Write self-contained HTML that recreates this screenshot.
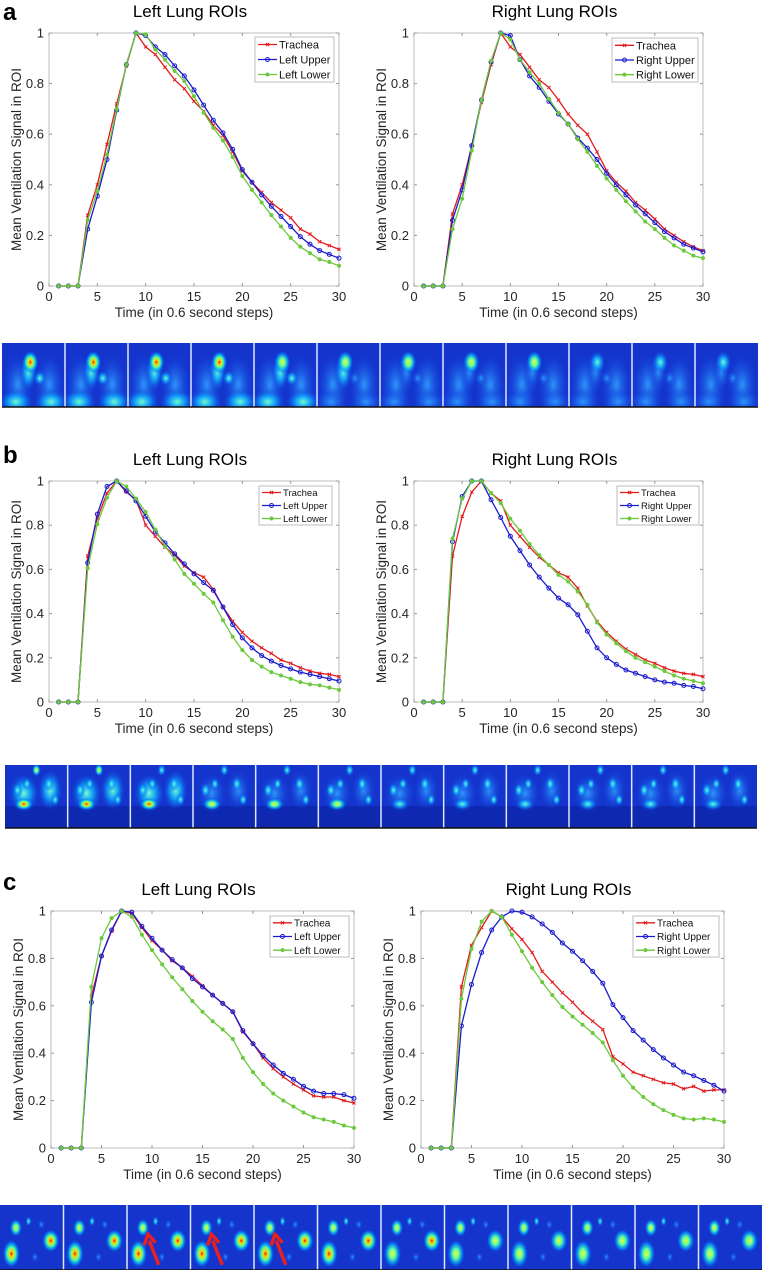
<!DOCTYPE html>
<html><head><meta charset="utf-8">
<style>
html,body{margin:0;padding:0;background:#fff;}
svg{display:block;font-family:"Liberation Sans",sans-serif;}
</style></head>
<body>
<svg id="root" width="762" height="1270" viewBox="0 0 762 1270" xmlns="http://www.w3.org/2000/svg">
<defs>
<radialGradient id="g3"><stop offset="0" stop-color="#e81010"/><stop offset="0.2" stop-color="#ffd000"/><stop offset="0.45" stop-color="#60ff90"/><stop offset="0.7" stop-color="#00a8ff" stop-opacity="0.8"/><stop offset="1" stop-color="#1040e0" stop-opacity="0"/></radialGradient>
<radialGradient id="g2"><stop offset="0" stop-color="#f0ff30"/><stop offset="0.35" stop-color="#60ffa0"/><stop offset="0.7" stop-color="#00a0ff" stop-opacity="0.7"/><stop offset="1" stop-color="#1040e0" stop-opacity="0"/></radialGradient>
<radialGradient id="g1"><stop offset="0" stop-color="#70ffd0"/><stop offset="0.45" stop-color="#10b0ff" stop-opacity="0.8"/><stop offset="1" stop-color="#1040e0" stop-opacity="0"/></radialGradient>
<radialGradient id="g0"><stop offset="0" stop-color="#30a0ff" stop-opacity="0.9"/><stop offset="1" stop-color="#1040e0" stop-opacity="0"/></radialGradient>
</defs>
<g>
<text x="3" y="20" font-size="24" font-weight="bold">a</text>
<g id="aL"></g><g id="aR"></g><g id="stripA"></g></g>
<g>
<text x="3" y="463" font-size="24" font-weight="bold">b</text>
<g id="bL"></g><g id="bR"></g><g id="stripB"></g></g>
<g>
<text x="3" y="890" font-size="24" font-weight="bold">c</text>
<g id="cL"></g><g id="cR"></g><g id="stripC"></g></g>
</svg>
<script>
// ---- data ----
const timeSteps = [1,2,3,4,5,6,7,8,9,10,11,12,13,14,15,16,17,18,19,20,21,22,23,24,25,26,27,28,29,30];
const xTicks = [0,5,10,15,20,25,30];
const yTicks = [0,0.2,0.4,0.6,0.8,1];
const yTickLabels = ["0","0.2","0.4","0.6","0.8","1"];

const aLeftTrachea = [0,0,0,0.28,0.40,0.56,0.72,0.87,1.0,0.945,0.915,0.865,0.815,0.78,0.73,0.69,0.635,0.595,0.53,0.455,0.41,0.37,0.33,0.30,0.27,0.225,0.205,0.175,0.16,0.145];
const aLeftUpper = [0,0,0,0.225,0.355,0.50,0.695,0.875,1.0,0.99,0.945,0.915,0.87,0.83,0.775,0.715,0.655,0.605,0.54,0.46,0.41,0.36,0.315,0.275,0.235,0.195,0.165,0.14,0.125,0.11];
const aLeftLower = [0,0,0,0.26,0.375,0.52,0.70,0.875,1.0,0.995,0.935,0.895,0.85,0.81,0.75,0.685,0.625,0.575,0.51,0.435,0.38,0.33,0.28,0.235,0.19,0.155,0.13,0.105,0.095,0.08];
const aRightTrachea = [0,0,0,0.285,0.40,0.555,0.725,0.875,1.0,0.945,0.915,0.865,0.815,0.785,0.735,0.68,0.635,0.60,0.53,0.455,0.41,0.375,0.33,0.30,0.265,0.225,0.20,0.175,0.155,0.14];
const aRightUpper = [0,0,0,0.26,0.38,0.555,0.735,0.885,1.0,0.99,0.895,0.83,0.785,0.73,0.68,0.64,0.585,0.545,0.50,0.445,0.40,0.36,0.32,0.285,0.25,0.215,0.19,0.165,0.15,0.135];
const aRightLower = [0,0,0,0.225,0.345,0.535,0.735,0.89,1.0,0.975,0.895,0.845,0.80,0.74,0.685,0.64,0.58,0.53,0.475,0.425,0.38,0.335,0.295,0.255,0.225,0.19,0.16,0.14,0.12,0.11];

const bLeftTrachea = [0,0,0,0.66,0.83,0.945,1.0,0.95,0.915,0.80,0.75,0.70,0.665,0.615,0.585,0.565,0.51,0.43,0.365,0.315,0.275,0.245,0.22,0.19,0.175,0.155,0.14,0.13,0.125,0.115];
const bLeftUpper = [0,0,0,0.63,0.85,0.975,1.0,0.955,0.91,0.84,0.77,0.72,0.67,0.625,0.58,0.54,0.505,0.43,0.35,0.29,0.245,0.21,0.185,0.165,0.15,0.135,0.125,0.115,0.105,0.095];
const bLeftLower = [0,0,0,0.605,0.805,0.925,1.0,0.975,0.92,0.86,0.78,0.705,0.645,0.58,0.535,0.49,0.45,0.37,0.295,0.235,0.19,0.16,0.135,0.12,0.105,0.09,0.08,0.075,0.065,0.055];
const bRightTrachea = [0,0,0,0.66,0.84,0.95,1.0,0.945,0.91,0.80,0.75,0.70,0.655,0.62,0.585,0.565,0.515,0.435,0.365,0.315,0.275,0.24,0.215,0.19,0.175,0.155,0.14,0.13,0.125,0.115];
const bRightUpper = [0,0,0,0.725,0.93,1.0,1.0,0.915,0.835,0.75,0.685,0.62,0.565,0.515,0.47,0.44,0.395,0.32,0.245,0.20,0.17,0.145,0.13,0.115,0.10,0.09,0.085,0.075,0.07,0.06];
const bRightLower = [0,0,0,0.74,0.92,1.0,1.0,0.945,0.90,0.83,0.775,0.715,0.665,0.62,0.575,0.545,0.50,0.44,0.36,0.305,0.265,0.23,0.20,0.18,0.16,0.14,0.12,0.105,0.095,0.085];

const cLeftTrachea = [0,0,0,0.64,0.81,0.915,1.0,0.99,0.93,0.875,0.835,0.79,0.76,0.725,0.685,0.645,0.61,0.575,0.49,0.44,0.38,0.335,0.30,0.27,0.245,0.22,0.215,0.215,0.20,0.19];
const cLeftUpper = [0,0,0,0.615,0.81,0.92,1.0,0.995,0.935,0.885,0.835,0.795,0.76,0.715,0.68,0.645,0.61,0.575,0.495,0.44,0.39,0.35,0.315,0.29,0.26,0.24,0.23,0.23,0.225,0.21];
const cLeftLower = [0,0,0,0.68,0.885,0.97,1.0,0.975,0.90,0.835,0.775,0.72,0.67,0.62,0.575,0.535,0.50,0.46,0.38,0.32,0.27,0.23,0.20,0.175,0.15,0.13,0.12,0.11,0.095,0.085];
const cRightTrachea = [0,0,0,0.68,0.855,0.93,1.0,0.975,0.925,0.88,0.825,0.745,0.70,0.655,0.615,0.57,0.535,0.50,0.385,0.355,0.32,0.305,0.29,0.275,0.27,0.25,0.26,0.24,0.245,0.245];
const cRightUpper = [0,0,0,0.515,0.69,0.825,0.92,0.975,1.0,0.995,0.975,0.945,0.91,0.865,0.83,0.79,0.745,0.695,0.605,0.55,0.495,0.455,0.415,0.38,0.35,0.32,0.305,0.285,0.265,0.24];
const cRightLower = [0,0,0,0.63,0.84,0.955,1.0,0.975,0.90,0.83,0.76,0.70,0.645,0.595,0.555,0.52,0.485,0.445,0.37,0.305,0.255,0.215,0.185,0.16,0.14,0.125,0.12,0.125,0.12,0.11];

const NS = "http://www.w3.org/2000/svg";
function mk(tag, attrs, parent){ const e=document.createElementNS(NS,tag); for(const k in attrs) e.setAttribute(k,attrs[k]); if(parent) parent.appendChild(e); return e; }

const RED="#e31a1c", BLUE="#1b1bcf", GREEN="#6cc93c";

function drawChart(gid, L, R, T, B, title, names, series, leg, legFont){
  const g=document.getElementById(gid);
  
  
  const xs=v=>L+(v/30)*(R-L), ys=v=>B-v*(B-T);
  const t=mk('text',{x:(L+R)/2-4,y:T-16,'font-size':17,'text-anchor':'middle'},g); t.textContent=title;
  
  
  const box=mk('rect',{x:L,y:T,width:R-L,height:B-T,fill:'none',stroke:'#bdbdbd','stroke-width':1},g);
  
  
  xTicks.forEach(v=>{
    const x=xs(v);
    mk('line',{x1:x,x2:x,y1:B,y2:B-3,stroke:'#999'},g); mk('line',{x1:x,x2:x,y1:T,y2:T+3,stroke:'#999'},g);
    const tl=mk('text',{x:x,y:B+15,'font-size':13,'text-anchor':'middle',fill:'#262626'},g); tl.textContent=v;
    
    
  });
  yTicks.forEach((v,i)=>{
    const y=ys(v);
    mk('line',{x1:L,x2:L+3,y1:y,y2:y,stroke:'#999'},g); mk('line',{x1:R,x2:R-3,y1:y,y2:y,stroke:'#999'},g);
    const tl=mk('text',{x:L-5,y:y+4.5,'font-size':13,'text-anchor':'end',fill:'#262626'},g); tl.textContent=yTickLabels[i];
    
    
  });
  const xl=mk('text',{x:(L+R)/2,y:B+31,'font-size':13.5,'text-anchor':'middle',fill:'#262626'},g); xl.textContent="Time (in 0.6 second steps)";
  
  
  const yc=(T+B)/2, yx=L-28;
  const yl=mk('text',{x:yx,y:yc,'font-size':13.5,'text-anchor':'middle',fill:'#262626',transform:`rotate(-90 ${yx} ${yc})`},g); yl.textContent="Mean Ventilation Signal in ROI";
  
  
  const cols=[RED,BLUE,GREEN], mks=['x','o','d'];
  series.forEach((s,si)=>{
    const sg=mk('g',{},g);
    
    
    const pts=s.map((v,i)=>xs(timeSteps[i]).toFixed(1)+','+ys(v).toFixed(1)).join(' ');
    mk('polyline',{points:pts,fill:'none',stroke:cols[si],'stroke-width':1.3},sg);
    s.forEach((v,i)=>marker(sg,xs(timeSteps[i]),ys(v),mks[si],cols[si]));
  });
  const lg=mk('g',{},g);
  
  
  mk('rect',{x:leg[0],y:leg[1],width:leg[2]-leg[0],height:leg[3]-leg[1],fill:'#fff',stroke:'#bdbdbd'},lg);
  const rh=(leg[3]-leg[1])/3;
  names.forEach((n,i)=>{
    const ly=leg[1]+rh*(i+0.5);
    const e=mk('g',{},lg);
    
    
    mk('line',{x1:leg[0]+3,x2:leg[0]+22,y1:ly,y2:ly,stroke:cols[i],'stroke-width':1.3},e);
    marker(e,leg[0]+12.5,ly,mks[i],cols[i]);
    const tx=mk('text',{x:leg[0]+24,y:ly+legFont*0.36,'font-size':legFont,fill:'#111'},e); tx.textContent=n;
  });
}
function marker(g,x,y,t,c){
  if(t==='x'){ mk('path',{d:`M${x-1.6},${y-1.6}L${x+1.6},${y+1.6}M${x-1.6},${y+1.6}L${x+1.6},${y-1.6}`,stroke:c,'stroke-width':1},g); }
  else if(t==='o'){ mk('circle',{cx:x,cy:y,r:2,fill:'none',stroke:c,'stroke-width':1},g); }
  else { mk('circle',{cx:x,cy:y,r:2,fill:c},g); }
}

drawChart('aL',49,339,33,286,'Left Lung ROIs',['Trachea','Left Upper','Left Lower'],[aLeftTrachea,aLeftUpper,aLeftLower],[255,37,334,82],11);
drawChart('aR',414,703,33,286,'Right Lung ROIs',['Trachea','Right Upper','Right Lower'],[aRightTrachea,aRightUpper,aRightLower],[612,38,698,82],11);
drawChart('bL',49,339,481,702,'Left Lung ROIs',['Trachea','Left Upper','Left Lower'],[bLeftTrachea,bLeftUpper,bLeftLower],[259,486,332,525],9.5);
drawChart('bR',414,703,481,702,'Right Lung ROIs',['Trachea','Right Upper','Right Lower'],[bRightTrachea,bRightUpper,bRightLower],[617,486,699,525],9.5);
drawChart('cL',51,354,911,1148,'Left Lung ROIs',['Trachea','Left Upper','Left Lower'],[cLeftTrachea,cLeftUpper,cLeftLower],[270,916,349,957],10);
drawChart('cR',421,724,911,1148,'Right Lung ROIs',['Trachea','Right Upper','Right Lower'],[cRightTrachea,cRightUpper,cRightLower],[633,916,719,957],10);

// ---- image strips ----
function strip(gid,x0,x1,y0,y1,kind,name){
  const g=document.getElementById(gid);
  
  
  const n=12, w=(x1-x0)/n, h=y1-y0;
  const cp=mk('clipPath',{id:gid+'clip'},g); mk('rect',{x:x0,y:y0,width:x1-x0,height:h},cp);
  const inner=mk('g',{'clip-path':`url(#${gid}clip)`},g);
  for(let i=0;i<n;i++){
    const fx=x0+i*w, fg=mk('g',{},inner);
    
    
    const cp2=mk('clipPath',{id:gid+'c'+i},g); mk('rect',{x:fx,y:y0,width:w,height:h},cp2);
    fg.setAttribute('clip-path',`url(#${gid}c${i})`);
    mk('rect',{x:fx,y:y0,width:w,height:h,fill:'#1434cc'},fg);
    const E=(cx,cy,rx,ry,gr)=>mk('ellipse',{cx:fx+cx*w,cy:y0+cy*h,rx:rx*w,ry:ry*h,fill:`url(#${gr})`},fg);
    if(kind==='a'){
      const s=i<5?'g1':'g0';
      E(0.25,0.65,0.25,0.5,'g0'); E(0.75,0.65,0.25,0.5,'g0');
      E(0.22,0.92,0.28,0.2,s); E(0.78,0.92,0.28,0.2,s);
      E(0.42,0.45,0.14,0.3,i<6?'g1':'g0');
      E(0.6,0.55,0.1,0.12,i<5?'g1':'g0');
      E(0.45,0.3,0.13,0.18,i<4?'g3':(i<9?'g2':'g1'));
    } else if(kind==='b'){
      mk('rect',{x:fx,y:y0+h*0.65,width:w,height:h*0.35,fill:'#0e28b0'},fg);
      E(0.3,0.45,0.25,0.32,i<3?'g1':'g0');
      E(0.72,0.4,0.2,0.33,i<3?'g1':'g0');
      E(0.3,0.62,0.15,0.1,i<3?'g3':(i<6?'g2':'g1'));
      E(0.2,0.4,0.08,0.12,'g1'); E(0.35,0.3,0.07,0.1,'g1');
      E(0.7,0.3,0.08,0.12,'g1'); E(0.8,0.55,0.07,0.1,'g1');
      E(0.5,0.08,0.07,0.1,i<2?'g2':'g1');
    } else {
      E(0.8,0.55,0.14,0.18,i<7?'g3':'g2');
      E(0.18,0.75,0.14,0.22,i<6?'g3':'g2');
      E(0.25,0.35,0.1,0.14,'g2'); E(0.45,0.25,0.05,0.08,'g1');
      E(0.65,0.3,0.06,0.08,'g0'); E(0.55,0.8,0.06,0.08,'g0');
      if(i>=2&&i<=4){
        const a=mk('path',{d:`M${fx+w*0.5},${y0+h*0.92}L${fx+w*0.35},${y0+h*0.55}M${fx+w*0.27},${y0+h*0.62}L${fx+w*0.33},${y0+h*0.45}L${fx+w*0.45},${y0+h*0.58}`,stroke:'#e82020','stroke-width':3.5,fill:'none'},fg);
        
        
      }
    }
    if(i>0) mk('line',{x1:fx,x2:fx,y1:y0,y2:y1,stroke:'#dfe6ff','stroke-width':1.5},inner);
  }
  mk('line',{x1:x0,x2:x1,y1:y1,y2:y1,stroke:'#111','stroke-width':1.5},g);
}
strip('stripA',2,758,343,407,'a','image-strip-a');
strip('stripB',5,757,765,828,'b','image-strip-b');
strip('stripC',0,762,1205,1270,'c','image-strip-c');
</script>
</body></html>
